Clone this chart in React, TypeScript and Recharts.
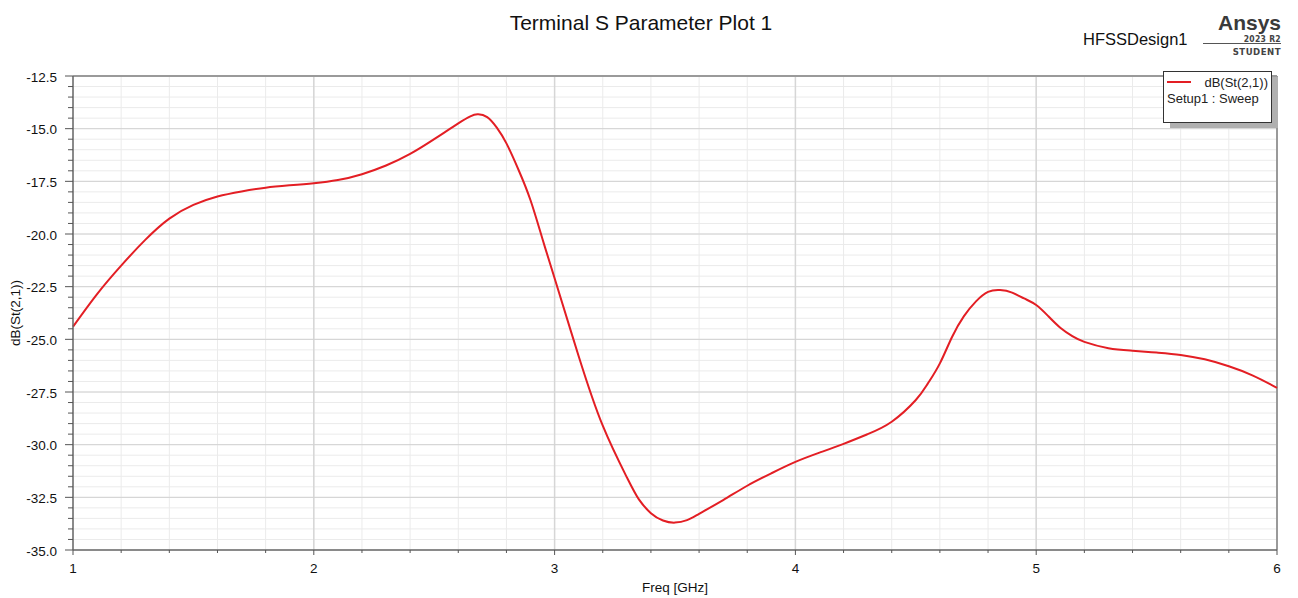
import { LineChart, Line, XAxis, YAxis, CartesianGrid, ReferenceLine } from 'recharts'

// Frequency sweep (GHz) and dB(St(2,1))
const freq = [
  1.0, 1.1, 1.2, 1.3, 1.4, 1.5, 1.6, 1.7, 1.8, 1.9,
  2.0, 2.1, 2.2, 2.3, 2.4, 2.5, 2.6, 2.65, 2.68, 2.72, 2.76, 2.8, 2.85, 2.9, 2.95,
  3.0, 3.1, 3.2, 3.3, 3.35, 3.4, 3.45, 3.5, 3.55, 3.6, 3.7, 3.8, 3.9,
  4.0, 4.1, 4.2, 4.3, 4.4, 4.5, 4.55, 4.6, 4.65, 4.7, 4.75, 4.8, 4.85, 4.9, 4.95,
  5.0, 5.05, 5.1, 5.15, 5.2, 5.3, 5.4, 5.5, 5.6, 5.7, 5.8, 5.9, 6.0,
]
const s21 = [
  -24.4, -22.85, -21.5, -20.28, -19.27, -18.62, -18.22, -17.98, -17.8, -17.69,
  -17.59, -17.44, -17.16, -16.75, -16.2, -15.5, -14.75, -14.42, -14.32, -14.45, -14.95, -15.7, -16.95, -18.4, -20.25,
  -22.1, -25.8, -29.1, -31.55, -32.6, -33.25, -33.6, -33.7, -33.58, -33.28, -32.63, -31.95, -31.36,
  -30.82, -30.38, -29.96, -29.5, -28.91, -27.88, -27.1, -26.14, -24.9, -23.9, -23.2, -22.75, -22.66, -22.78, -23.06,
  -23.37, -23.9, -24.45, -24.85, -25.12, -25.42, -25.54, -25.63, -25.74, -25.95, -26.28, -26.72, -27.3,
]

const xTicks = [
  1, 1.2, 1.4, 1.6, 1.8, 2, 2.2, 2.4, 2.6, 2.8, 3, 3.2, 3.4, 3.6, 3.8,
  4, 4.2, 4.4, 4.6, 4.8, 5, 5.2, 5.4, 5.6, 5.8, 6,
]
const xMajor = [2, 3, 4, 5]
const yMajor = [-35, -32.5, -30, -27.5, -25, -22.5, -20, -17.5, -15, -12.5]
const yTicks = [
  -35, -34.5, -34, -33.5, -33, -32.5, -32, -31.5, -31, -30.5,
  -30, -29.5, -29, -28.5, -28, -27.5, -27, -26.5, -26, -25.5,
  -25, -24.5, -24, -23.5, -23, -22.5, -22, -21.5, -21, -20.5,
  -20, -19.5, -19, -18.5, -18, -17.5, -17, -16.5, -16, -15.5,
  -15, -14.5, -14, -13.5, -13, -12.5,
]

const seriesName = 'dB(St(2,1))'
const sweepName = 'Setup1 : Sweep'

const data = freq.map((f, i) => ({ freq: f, s21: s21[i] }))

const FONT = '"Liberation Sans", Arial, sans-serif'
const LOGO_FONT = '"DejaVu Sans Condensed", "DejaVu Sans", sans-serif'
const RED = '#e31e24'
const SHADOW = '#b0b0b0'

const YTick = (props: any) => {
  const { x, y, payload } = props
  const v = payload.value as number
  const major = yMajor.includes(v)
  return (
    <g>
      <line x1={x - (major ? 8 : 5)} x2={x} y1={y} y2={y} stroke="#555" />
      {major && (
        <text x={x - 16} y={y + 5.5} textAnchor="end" fontSize={13.5} fontFamily={FONT} fill="#111">
          {v.toFixed(1)}
        </text>
      )}
    </g>
  )
}

const XTick = (props: any) => {
  const { x, y, payload } = props
  const v = payload.value as number
  const major = Number.isInteger(v)
  return (
    <g>
      <line x1={x} x2={x} y1={y} y2={y + (major ? 5 : 3)} stroke="#555" />
      {major && (
        <text x={x} y={y + 23} textAnchor="middle" fontSize={13.5} fontFamily={FONT} fill="#111">
          {v}
        </text>
      )}
    </g>
  )
}

export default function App() {
  return (
    <div style={{ position: 'absolute', left: 0, top: 0, width: 1298, height: 598, overflow: 'hidden', background: '#fff' }}>
      <LineChart width={1298} height={598} data={data} margin={{ top: 76, right: 21, bottom: 0, left: 0 }}>
        <CartesianGrid stroke="#ebebeb" strokeWidth={1} />
        {xMajor.map(v => (
          <ReferenceLine key={'x' + v} x={v} stroke="#d6d6d6" strokeWidth={1.5} />
        ))}
        {yMajor.slice(1, -1).map(v => (
          <ReferenceLine key={'y' + v} y={v} stroke="#d2d2d2" strokeWidth={1} />
        ))}
        <ReferenceLine y={-12.5} stroke="#9a9a9a" strokeWidth={2} />
        <ReferenceLine x={6} stroke="#9a9a9a" strokeWidth={2} />
        <XAxis
          dataKey="freq"
          type="number"
          domain={[1, 6]}
          ticks={xTicks}
          interval={0}
          height={48}
          tickSize={0}
          tickMargin={0}
          tick={<XTick />}
          axisLine={{ stroke: '#666', strokeWidth: 1.5 }}
          label={{
            content: (p: any) => (
              <text
                x={p.viewBox.x + p.viewBox.width / 2}
                y={p.viewBox.y + 42}
                textAnchor="middle"
                fontSize={13.5}
                fontFamily={FONT}
                fill="#111"
              >
                Freq [GHz]
              </text>
            ),
          }}
        />
        <YAxis
          type="number"
          domain={[-35, -12.5]}
          ticks={yTicks}
          interval={0}
          width={73}
          tickSize={0}
          tickMargin={0}
          tick={<YTick />}
          axisLine={{ stroke: '#666', strokeWidth: 1.5 }}
          label={{
            content: (p: any) => {
              const cx = p.viewBox.x + 20
              const cy = p.viewBox.y + p.viewBox.height / 2
              return (
                <text
                  x={cx}
                  y={cy}
                  transform={`rotate(-90, ${cx}, ${cy})`}
                  textAnchor="middle"
                  fontSize={13.5}
                  fontFamily={FONT}
                  fill="#111"
                >
                  {seriesName}
                </text>
              )
            },
          }}
        />
        <Line
          type="natural"
          dataKey="s21"
          name={seriesName}
          stroke={RED}
          strokeWidth={2}
          dot={false}
          activeDot={false}
          isAnimationActive={false}
        />
      </LineChart>
      {/* title, logo and the HFSS-style legend with its flat drop shadow */}
      <svg width={1298} height={140} style={{ position: 'absolute', left: 0, top: 0, pointerEvents: 'none' }}>
        <text x={641} y={29.5} textAnchor="middle" fontSize={21} fontFamily={FONT} fill="#111">
          Terminal S Parameter Plot 1
        </text>
        <text x={1083} y={45} fontSize={16.5} fontFamily={FONT} fill="#111">
          HFSSDesign1
        </text>
        <text x={1281} y={30} textAnchor="end" fontSize={21} fontWeight="bold" fontFamily={FONT} fill="#3a3a3a">
          Ansys
        </text>
        <text x={1281} y={42} textAnchor="end" fontSize={8.5} fontWeight="bold" fontFamily={LOGO_FONT} fill="#444" letterSpacing={0.3}>
          2023 R2
        </text>
        <line x1={1203} x2={1281} y1={43.5} y2={43.5} stroke="#555" strokeWidth={1} />
        <text x={1281} y={55} textAnchor="end" fontSize={9.5} fontWeight="bold" fontFamily={LOGO_FONT} fill="#444" letterSpacing={0.5}>
          STUDENT
        </text>
        <g transform="translate(1163, 71)">
          <rect x={0.5} y={0.5} width={108} height={51} fill="#fff" stroke="#333" strokeWidth={1} />
          {/* shadow strips along the right and bottom edges */}
          <rect x={109} y={6} width={6} height={51} style={{ fill: SHADOW }} />
          <rect x={7} y={52} width={102} height={5} style={{ fill: SHADOW }} />
          <line x1={4} x2={28} y1={11} y2={11} stroke={RED} strokeWidth={2} />
          <text x={105} y={16} textAnchor="end" fontSize={13} fontFamily={FONT} fill="#222">
            {seriesName}
          </text>
          <text x={4} y={32} fontSize={13} fontFamily={FONT} fill="#222" style={{ whiteSpace: 'pre' }}>
            {sweepName}
          </text>
        </g>
      </svg>
    </div>
  )
}
